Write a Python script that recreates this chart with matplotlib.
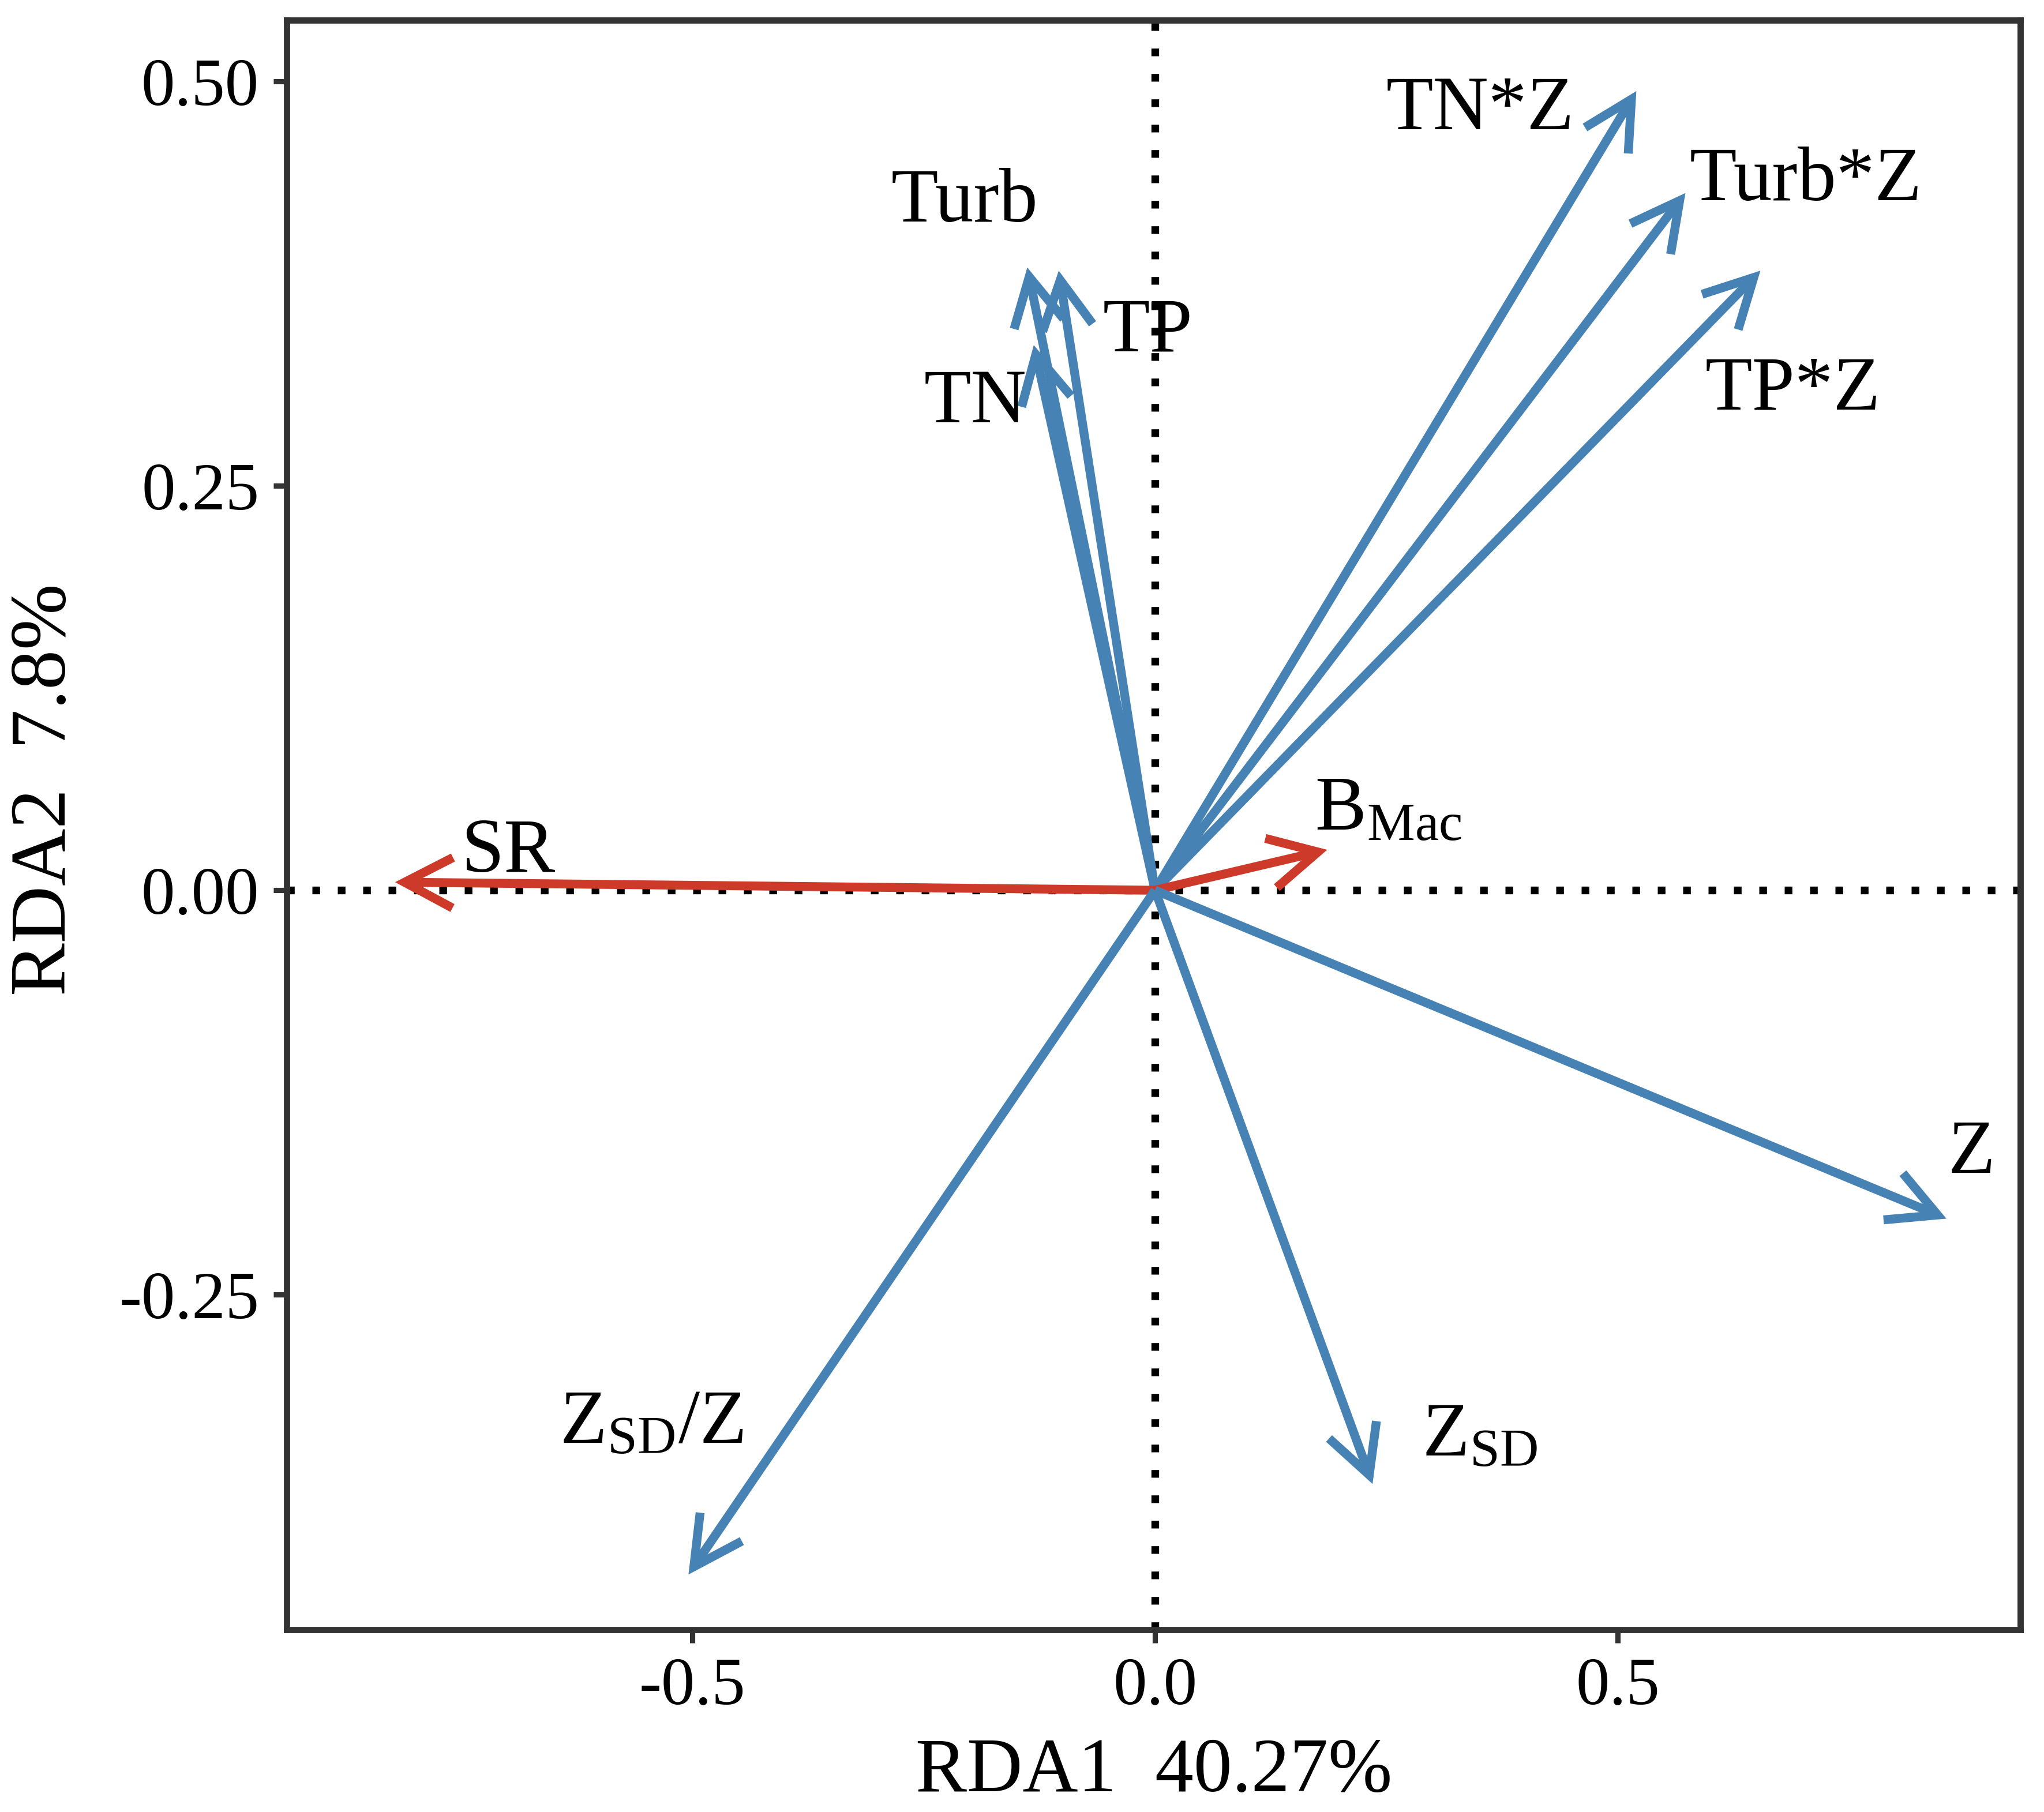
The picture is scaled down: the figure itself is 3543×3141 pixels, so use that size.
"""
RDA biplot: environmental vectors (blue) and response vectors (red).
"""

import matplotlib
matplotlib.use('Agg')
import matplotlib.pyplot as plt


plt.rcParams['font.family'] = ['Liberation Serif', 'DejaVu Serif']
plt.rcParams['mathtext.fontset'] = 'custom'
plt.rcParams['mathtext.rm'] = 'Liberation Serif'
plt.rcParams['mathtext.it'] = 'Liberation Serif:italic'

# arrow tips (RDA1, RDA2)
names = ['TN*Z', 'Turb*Z', 'TP*Z', 'Turb', 'TP', 'TN',
         'SR', 'B_Mac', 'Z', 'Z_SD', 'Z_SD/Z']
rda1 = [0.520, 0.573, 0.654, -0.138, -0.104, -0.131,
        -0.821, 0.186, 0.855, 0.235, -0.504]
rda2 = [0.494, 0.431, 0.383, 0.385, 0.383, 0.337,
        0.005, 0.025, -0.203, -0.367, -0.423]
group = ['env', 'env', 'env', 'env', 'env', 'env',
         'resp', 'resp', 'env', 'env', 'env']

# label positions
lab_x = [0.351, 0.703, 0.689, -0.206, -0.008, -0.194,
         -0.699, 0.252, 0.882, 0.351, -0.544]
lab_y = [0.482, 0.438, 0.309, 0.425, 0.345, 0.301,
         0.023, 0.049, -0.163, -0.338, -0.330]
lab_txt = ['TN*Z', 'Turb*Z', 'TP*Z', 'Turb', 'TP', 'TN',
           'SR', r'B$_{\mathrm{Mac}}$', 'Z', r'Z$_{\mathrm{SD}}$',
           r'Z$_{\mathrm{SD}}$/Z']

xticks = [-0.5, 0.0, 0.5]
yticks = [-0.25, 0.0, 0.25, 0.5]
xlab = 'RDA1  40.27%'
ylab = 'RDA2  7.8%'

clr = {'env': '#4682B4', 'resp': '#CD3A2A'}


def main():
    fig = plt.figure(figsize=(3543 / 300, 3141 / 300), dpi=300)
    ax = fig.add_axes([0.1403, 0.1007, 0.8482, 0.8883])

    ax.set_xlim(-0.938, 0.935)
    ax.set_ylim(-0.457, 0.538)

    # dotted zero lines
    ax.axhline(0, color='black', lw=3.2, linestyle=(0, (1, 2.3)),
               dash_capstyle='butt', zorder=1)
    ax.axvline(0, color='black', lw=3.2, linestyle=(0, (1, 2.3)),
               dash_capstyle='butt', zorder=1)

    for i in range(len(names)):
        ax.annotate('', xy=(rda1[i], rda2[i]), xytext=(0, 0),
                    arrowprops=dict(arrowstyle='->,head_length=20,head_width=10.5',
                                    mutation_scale=1, lw=3.7,
                                    color=clr[group[i]],
                                    shrinkA=0, shrinkB=0,
                                    capstyle='butt', joinstyle='miter'),
                    zorder=2)
        ax.text(lab_x[i], lab_y[i], lab_txt[i], fontsize=32,
                ha='center', va='center', zorder=3)

    ax.set_xticks(xticks)
    ax.set_xticklabels(['-0.5', '0.0', '0.5'])
    ax.set_yticks(yticks)
    ax.set_yticklabels(['-0.25', '0.00', '0.25', '0.50'])

    for s in ax.spines.values():
        s.set_linewidth(2.6)
        s.set_color('#333333')
    ax.tick_params(length=5.5, width=2.2, color='#333333',
                   labelsize=28, labelcolor='black', pad=6)

    ax.set_xlabel(xlab, fontsize=32, labelpad=8)
    ax.set_ylabel(ylab, fontsize=33)
    ax.yaxis.set_label_coords(-0.118, 0.522)

    fig.savefig('out.png', dpi=300)


if __name__ == "__main__":
    main()
